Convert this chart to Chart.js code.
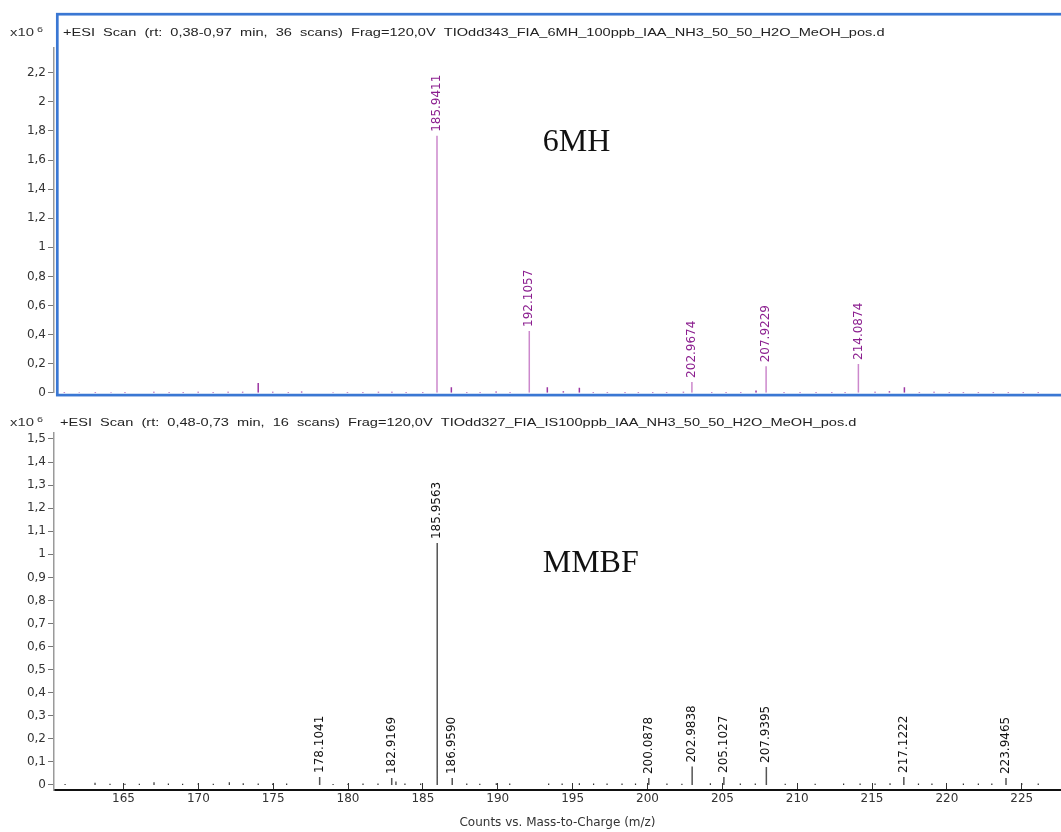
<!DOCTYPE html>
<html>
<head>
<meta charset="utf-8">
<script src="https://cdn.jsdelivr.net/npm/chart.js@4.4.1/dist/chart.umd.min.js"></script>
<style>
  html, body { margin: 0; padding: 0; background: #fff; }
  #wrap { position: relative; width: 1061px; height: 832px; overflow: hidden; }
  canvas { position: absolute; left: 0; }
  #top { top: 0; }
  #bot { top: 402px; }
</style>
</head>
<body>
<div id="wrap">
  <canvas id="top" width="1061" height="402"></canvas>
  <canvas id="bot" width="1061" height="430"></canvas>
</div>
<script>
// intensities in units of 10^6 counts
const topPeakMz = [185.9411, 192.1057, 202.9674, 207.9229, 214.0874];
const topPeakInt = [1.766, 0.425, 0.075, 0.182, 0.198];
const topNoiseMz = [161.05, 162.05, 163.12, 164.17, 165.1, 167.03, 168.05, 168.99, 169.99, 170.99, 171.99, 172.96, 174.0, 174.97, 176.01, 176.9, 179.0, 179.96, 180.99, 182.03, 182.93, 183.88, 184.99, 186.9, 187.93, 188.82, 189.89, 190.82, 193.31, 194.38, 195.45, 196.38, 197.32, 198.5, 199.39, 200.35, 201.28, 202.4, 204.29, 205.25, 206.23, 207.25, 209.12, 210.19, 211.26, 212.31, 213.2, 215.2, 216.16, 217.16, 218.16, 219.14, 220.16, 221.1, 222.1, 223.1, 224.1, 225.1, 226.1];
const topNoiseInt = [0.006, 0.004, 0.006, 0.004, 0.005, 0.007, 0.006, 0.005, 0.008, 0.006, 0.008, 0.007, 0.068, 0.007, 0.006, 0.009, 0.004, 0.006, 0.006, 0.007, 0.008, 0.005, 0.005, 0.039, 0.005, 0.006, 0.009, 0.005, 0.039, 0.01, 0.034, 0.006, 0.006, 0.005, 0.005, 0.005, 0.005, 0.007, 0.006, 0.006, 0.006, 0.015, 0.006, 0.005, 0.006, 0.006, 0.005, 0.008, 0.01, 0.039, 0.006, 0.007, 0.006, 0.006, 0.006, 0.006, 0.006, 0.005, 0.006];

const botPeakMz = [178.1041, 182.9169, 185.9563, 186.9590, 200.0878, 202.9838, 205.1027, 207.9395, 217.1222, 223.9465];
const botPeakInt = [0.035, 0.03, 1.049, 0.03, 0.03, 0.08, 0.035, 0.078, 0.035, 0.03];
const botNoiseMz = [161.1, 163.1, 164.1, 165.1, 166.06, 167.04, 168.0, 168.95, 170.0, 171.0, 172.07, 173.0, 174.0, 174.97, 175.9, 179.0, 180.0, 181.0, 182.0, 183.2, 183.8, 184.85, 187.93, 188.8, 189.9, 190.8, 193.4, 194.3, 195.45, 196.4, 197.3, 198.3, 199.2, 201.3, 202.3, 204.2, 206.2, 207.2, 209.2, 211.2, 213.1, 214.2, 215.2, 216.2, 218.1, 219.0, 221.1, 222.1, 223.0, 225.0, 226.1];
const botNoiseInt = [0.004, 0.01, 0.005, 0.005, 0.005, 0.012, 0.006, 0.005, 0.008, 0.005, 0.012, 0.008, 0.006, 0.006, 0.006, 0.004, 0.005, 0.006, 0.006, 0.015, 0.006, 0.006, 0.006, 0.005, 0.008, 0.006, 0.006, 0.006, 0.008, 0.006, 0.007, 0.006, 0.006, 0.006, 0.005, 0.008, 0.006, 0.006, 0.005, 0.005, 0.006, 0.006, 0.006, 0.008, 0.006, 0.006, 0.006, 0.007, 0.006, 0.008, 0.006];

const xTicks = [165, 170, 175, 180, 185, 190, 195, 200, 205, 210, 215, 220, 225];
const topYTicks = [0, 0.2, 0.4, 0.6, 0.8, 1, 1.2, 1.4, 1.6, 1.8, 2, 2.2];
const botYTicks = [0, 0.1, 0.2, 0.3, 0.4, 0.5, 0.6, 0.7, 0.8, 0.9, 1, 1.1, 1.2, 1.3, 1.4, 1.5];

const topHeader = '+ESI  Scan  (rt:  0,38-0,97  min,  36  scans)  Frag=120,0V  TIOdd343_FIA_6MH_100ppb_IAA_NH3_50_50_H2O_MeOH_pos.d';
const botHeader = '+ESI  Scan  (rt:  0,48-0,73  min,  16  scans)  Frag=120,0V  TIOdd327_FIA_IS100ppb_IAA_NH3_50_50_H2O_MeOH_pos.d';
const xTitle = 'Counts vs. Mass-to-Charge (m/z)';

const X_MIN = 160.36, X_MAX = 227.62;

// vertical sticks: 0 -> intensity, then a gap
function sticks(mz, inten) {
    const pts = [];
    mz.forEach((m, i) => {
        pts.push({ x: m, y: 0 }, { x: m, y: inten[i] }, { x: m, y: null });
    });
    return pts;
}

const fmt = v => String(Math.round(v * 10) / 10).replace('.', ',');

function wideText(ctx, txt, x, y, font, color, sx) {
    ctx.save();
    ctx.font = font;
    ctx.fillStyle = color;
    ctx.textBaseline = 'alphabetic';
    ctx.textAlign = 'left';
    ctx.translate(x, y);
    ctx.scale(sx, 1);
    ctx.fillText(txt, 0, 0);
    ctx.restore();
}

// header line, x10^6 and name, peak labels, optional blue frame
const panelPlugin = {
    id: 'panel',
    afterDatasetsDraw(chart, args, o) {
        const ctx = chart.ctx;
        const xs = chart.scales.x, ys = chart.scales.y;
        const a = chart.chartArea;

        // peak labels
        ctx.save();
        ctx.font = '12px "DejaVu Sans"';
        ctx.fillStyle = o.labelColor;
        ctx.textAlign = 'left';
        ctx.textBaseline = 'middle';
        o.mz.forEach((m, i) => {
            const px = xs.getPixelForValue(m);
            const py = ys.getPixelForValue(o.inten[i]);
            ctx.save();
            ctx.translate(px, py - 4);
            ctx.rotate(-Math.PI / 2);
            ctx.fillText(m.toFixed(4), 0, 0);
            ctx.restore();
        });
        ctx.restore();

        // x10^6 and scan header
        wideText(ctx, 'x10', 10, o.headY, '11px "Liberation Sans"', '#333', 1.35);
        wideText(ctx, '6', 37, o.headY - 4, '8px "Liberation Sans"', '#333', 1.35);
        wideText(ctx, o.header, o.headX, o.headY, '11px "Liberation Sans"', '#222', 1.325);

        // compound name
        ctx.save();
        ctx.font = '32px "Liberation Serif"';
        ctx.fillStyle = '#111';
        ctx.textBaseline = 'alphabetic';
        ctx.fillText(o.name, xs.getPixelForValue(o.nameAt[0]), ys.getPixelForValue(o.nameAt[1]));
        ctx.restore();

        if (o.frame) {
            ctx.save();
            ctx.strokeStyle = '#3a77d3';
            ctx.lineWidth = 2.7;
            ctx.strokeRect(a.left + 3.3, 14.2, chart.width, a.bottom + 2.3 - 14.2);
            ctx.restore();
        }
    }
};

function yAxis(min, max, ticks) {
    return {
        min: min,
        max: max,
        afterFit: s => { s.width = 54; },
        afterBuildTicks: s => { s.ticks = ticks.map(v => ({ value: v })); },
        grid: { drawOnChartArea: false, tickLength: 6, color: '#777', lineWidth: 1 },
        border: { color: '#9a9a9a', width: 1.5 },
        ticks: { padding: 2, color: '#333', font: { family: 'DejaVu Sans', size: 12 }, callback: fmt }
    };
}

new Chart(document.getElementById('top').getContext('2d'), {
    type: 'scatter',
    data: {
        datasets: [
            { data: sticks(topNoiseMz, topNoiseInt), showLine: true, borderColor: '#9c35a2', borderWidth: 1.5, pointRadius: 0 },
            { data: sticks(topPeakMz, topPeakInt), showLine: true, borderColor: '#cc88cc', borderWidth: 1.5, pointRadius: 0 }
        ]
    },
    options: {
        responsive: false,
        animation: false,
        layout: { padding: { top: 48, bottom: 7, left: 0, right: 0 } },
        plugins: {
            legend: { display: false },
            tooltip: { enabled: false },
            panel: {
                mz: topPeakMz, inten: topPeakInt, labelColor: '#8b1e8f',
                header: topHeader, headX: 63, headY: 36,
                name: '6MH', nameAt: [193.0, 1.66], frame: true
            }
        },
        scales: {
            x: { type: 'linear', min: X_MIN, max: X_MAX, display: false },
            y: yAxis(0, 2.37, topYTicks)
        }
    },
    plugins: [panelPlugin]
});

new Chart(document.getElementById('bot').getContext('2d'), {
    type: 'scatter',
    data: {
        datasets: [
            { data: sticks(botNoiseMz, botNoiseInt), showLine: true, borderColor: '#333', borderWidth: 1.2, pointRadius: 0 },
            { data: sticks(botPeakMz, botPeakInt), showLine: true, borderColor: '#555', borderWidth: 1.5, pointRadius: 0 }
        ]
    },
    options: {
        responsive: false,
        animation: false,
        layout: { padding: { top: 31, bottom: 0, left: 0, right: 0 } },
        plugins: {
            legend: { display: false },
            tooltip: { enabled: false },
            panel: {
                mz: botPeakMz, inten: botPeakInt, labelColor: '#111',
                header: botHeader, headX: 60, headY: 23.5,
                name: 'MMBF', nameAt: [193.0, 0.925], frame: false
            }
        },
        scales: {
            x: {
                type: 'linear',
                min: X_MIN,
                max: X_MAX,
                afterFit: s => { s.height = 42; },
                afterBuildTicks: s => { s.ticks = xTicks.map(v => ({ value: v })); },
                grid: { drawOnChartArea: false, tickLength: -7, color: '#333' },
                border: { color: '#111', width: 2 },
                ticks: { padding: 9, maxRotation: 0, color: '#333', font: { family: 'DejaVu Sans', size: 12 } },
                title: { display: true, text: xTitle, color: '#333', font: { family: 'DejaVu Sans', size: 12 }, padding: { top: 0, bottom: 2 } }
            },
            y: yAxis(-0.0217, 1.526, botYTicks)
        }
    },
    plugins: [panelPlugin]
});
</script>
</body>
</html>
